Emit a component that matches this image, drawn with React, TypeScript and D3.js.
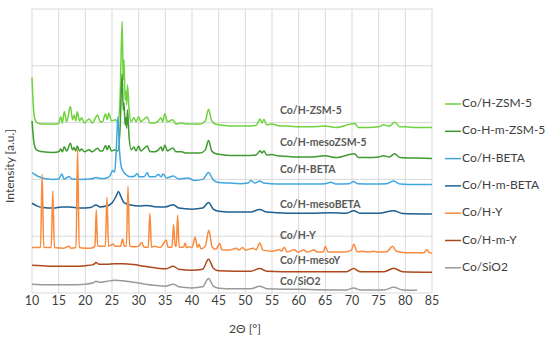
import React from "react";
import * as d3 from "d3";

// legend names and line colours, in drawing order
const seriesNames = ["Co/H-ZSM-5", "Co-H-m-ZSM-5", "Co/H-BETA", "Co/H-m-BETA", "Co/H-Y", "Co/H-m-Y", "Co/SiO2"];
const seriesColors = ["#6fd23e", "#3f9a30", "#3fa7e0", "#1f5f8f", "#fa8a3c", "#ad481d", "#9a9a9a"];
// labels written inside the plot, next to each pattern
const curveLabels = ["Co/H-ZSM-5", "Co/H-mesoZSM-5", "Co/H-BETA", "Co/H-mesoBETA", "Co/H-Y", "Co/H-mesoY", "Co/SiO2"];
const curveLabelLevels = [63.8, 52.8, 43.3, 31, 20, 11.2, 3.8];

const xTicks = [10, 15, 20, 25, 30, 35, 40, 45, 50, 55, 60, 65, 70, 75, 80, 85];
const yGrid = [0, 20, 40, 60, 80, 100];

// [2θ, intensity (a.u., stacked)]
const hZsm5 = [
  [10, 75.9], [10.3, 64.5], [10.6, 61], [11, 59.9], [12, 59.5], [14, 59.5], [15, 59.7], [15.4, 62.1], [15.7, 59.9],
  [16.05, 63.9], [16.5, 60.3], [17.2, 65.7], [17.6, 61], [17.9, 62.7], [18.2, 60.6], [18.5, 63.8], [18.9, 60.6],
  [19.3, 61.7], [19.8, 59.9], [20.7, 61.3], [21.3, 59.9], [22.3, 62.7], [22.8, 60.3], [23.2, 60.3], [23.8, 63.1],
  [24.1, 61], [24.4, 63.4], [24.9, 60.6], [25.6, 61], [26.1, 60.3], [26.5, 68], [26.9, 95.7], [27.1, 75.1],
  [27.25, 82.1], [27.45, 68], [27.6, 71], [27.75, 66.3], [27.9, 73.3], [28.2, 64.5], [28.6, 60.3], [29.1, 61.7],
  [29.5, 60.3], [30, 62.1], [30.4, 60.3], [30.9, 61], [31.6, 62], [32.1, 59.9], [33, 59.9], [33.7, 60.6],
  [34.2, 61.7], [34.5, 60.3], [34.9, 63.1], [35.4, 60.3], [36.4, 61], [37, 59.5], [38, 59.9], [39, 59.5],
  [40, 59.5], [41.5, 59.5], [42.5, 60.6], [43.1, 64.7], [43.7, 60.6], [44.5, 59.4], [46, 59], [48, 58.8],
  [50, 58.8], [52, 59], [52.8, 61.3], [53.1, 59.9], [53.5, 61.1], [54, 59.2], [55, 59.5], [56, 59], [57, 58.8],
  [58, 58.8], [60, 58.5], [62, 58.5], [65, 58.8], [67, 58.3], [70.5, 59.7], [71.2, 58.3], [73, 58.3], [75, 58.5],
  [75.9, 59.2], [77, 58.7], [78, 60.1], [79, 58.5], [80, 58.5], [82, 58.3], [85, 58.3],
];
const hmZsm5 = [
  [10, 60.6], [10.3, 53.9], [10.6, 51.1], [11, 50.2], [12, 49.7], [14, 49.5], [15, 49.7], [15.4, 50.7], [15.7, 49.7],
  [16.05, 51.5], [16.5, 50], [17.2, 52.7], [17.6, 50.4], [17.9, 51.2], [18.2, 50], [18.5, 51.8], [18.9, 50],
  [19.3, 50.7], [19.8, 49.7], [20.7, 50.4], [21.3, 49.7], [22.3, 51], [22.8, 50], [23.2, 50], [23.8, 51.9],
  [24.1, 50.4], [24.4, 51.9], [24.9, 50], [25.6, 50.4], [26.1, 50], [26.5, 57.4], [26.9, 77.2], [27.1, 64.5],
  [27.25, 67], [27.45, 59.2], [27.6, 61.7], [27.75, 58.1], [27.9, 64.5], [28.2, 55], [28.6, 50.4], [29.1, 51.4],
  [29.5, 50], [30, 51.8], [30.4, 50], [30.9, 50.7], [31.6, 51.8], [32.1, 49.8], [33, 49.7], [33.7, 50.4],
  [34.2, 51.4], [34.5, 50], [34.9, 52.1], [35.4, 50], [36.4, 51.1], [37, 49.7], [38, 49.7], [39, 49.3],
  [40, 49.3], [41.5, 49.3], [42.5, 50.4], [43.1, 53.7], [43.7, 50], [44.5, 49], [46, 48.6], [48, 48.4],
  [50, 48.4], [52, 48.6], [52.8, 50.1], [53.1, 49.3], [53.5, 50], [54, 48.6], [55, 48.8], [56, 48.3],
  [58, 48.1], [60, 47.9], [62, 47.9], [65, 48.3], [67, 47.7], [70.5, 49], [71.2, 47.7], [73, 47.7], [75, 47.9],
  [75.9, 48.3], [77, 47.9], [78, 49], [79, 47.7], [82, 47.5], [85, 47.4],
];
const hBeta = [
  [10, 42.4], [11, 41.2], [12, 40.5], [13, 40.1], [14, 40], [15, 40.1], [15.6, 41.9], [16, 40.1], [17, 41],
  [17.5, 40.1], [19, 40], [21, 40.1], [22, 40.7], [23, 40.3], [24, 40.5], [24.7, 41.5], [25.1, 43.1], [25.5, 42.6],
  [25.8, 50.4], [26.1, 62], [26.4, 50.4], [26.8, 44], [27.5, 41.9], [28.5, 40.9], [29.3, 41.2], [29.7, 42.1],
  [30.1, 40.9], [31, 40.9], [31.6, 42.4], [32, 40.9], [33, 40.9], [33.7, 41.7], [34.2, 40.9], [34.6, 41.9],
  [35.2, 40.5], [36.5, 41.2], [37.5, 40.1], [39.2, 40.5], [40.5, 39.6], [42, 40], [43.1, 42.4], [44, 39.8],
  [45, 38.9], [47, 38.7], [49, 38.5], [50.5, 38.7], [51, 39.6], [51.8, 38.7], [52.7, 39.4], [53.5, 38.7],
  [56, 38.4], [60, 38.4], [63, 38.4], [65, 38.5], [66, 39], [67, 38.4], [69.5, 38.5], [70.3, 39.3], [71, 38.5],
  [74, 38.4], [76.5, 38.5], [77.8, 39.4], [79, 38.4], [82, 38.2], [85, 38.2],
];
const hmBeta = [
  [10, 31.6], [11, 30.6], [12, 30.1], [14, 29.9], [15.6, 30.3], [17, 30.3], [19, 29.9], [21, 30.1], [22, 31],
  [22.7, 30.3], [24, 30.6], [25, 31.7], [25.7, 33.8], [26.2, 35.7], [26.7, 33.8], [27.3, 31.7], [28.5, 31],
  [30, 30.6], [31.5, 30.8], [33, 30.4], [35, 30.3], [36.5, 31.1], [37.5, 29.9], [40, 29.5], [42, 29.9],
  [43.1, 31.9], [44, 29.5], [45, 28.8], [48, 28.5], [51, 28.5], [52.7, 29.4], [54, 28.5], [58, 28.1], [62, 28.1],
  [66, 28.3], [69, 28.1], [70.3, 29], [71.5, 28.1], [75, 28.1], [77.8, 29], [79.5, 28], [85, 27.8],
];
const hY = [
  [10, 16], [11, 16], [11.6, 16.1], [11.9, 41.8], [12.2, 16.1], [13.6, 16], [13.9, 35.9], [14.2, 16], [16, 15.8],
  [16.9, 16.5], [17.3, 15.8], [18.25, 16], [18.55, 50.7], [18.85, 16], [20, 15.8], [21, 15.8], [21.8, 16.5],
  [22.05, 29.2], [22.3, 16.5], [23.3, 16.5], [23.75, 16.5], [24.05, 33.7], [24.35, 16.5], [25.2, 17.2],
  [25.6, 16.5], [26.6, 16.5], [27, 19], [27.3, 16.5], [27.7, 16.5], [28, 37.7], [28.3, 16.5], [29.5, 16.3],
  [30, 16.5], [30.6, 17.8], [31, 16.1], [31.8, 16.1], [32.1, 28], [32.4, 16.1], [33, 16.5], [34, 16],
  [35.2, 18.6], [35.5, 16.1], [36.25, 16.1], [36.55, 24.1], [36.85, 16.5], [37.05, 16.5], [37.3, 27.4],
  [37.6, 16.1], [38.4, 16.1], [38.7, 17.6], [39, 16], [39.5, 16.3], [40, 16], [40.6, 19.6], [41, 16.1],
  [41.3, 17.2], [41.7, 15.6], [42.5, 16.5], [43.15, 22.1], [43.8, 16.1], [44.5, 15.4], [45.2, 17.4], [45.6, 15.2],
  [47, 15.1], [48.3, 15.8], [48.8, 15.1], [49.5, 16], [50, 15.1], [51.5, 15.8], [52, 15.2], [52.7, 17.6],
  [53.3, 15.1], [55, 14.7], [56.4, 15.2], [56.8, 14.7], [57.3, 16.1], [57.8, 14.5], [59.2, 15.2], [59.8, 14.4],
  [61, 15.1], [61.5, 14.4], [62.9, 15.1], [63.4, 14.4], [64.6, 14.4], [65, 16.5], [65.5, 14.4], [67, 14.4],
  [68.5, 14.4], [69.9, 15.1], [70.3, 17.2], [71, 14.5], [72, 14.7], [73, 14.4], [74, 14.7], [75, 14.4],
  [76.5, 14.5], [77.6, 16.5], [78.3, 14.7], [80, 14.2], [83.5, 14.2], [84, 15.2], [84.5, 14.2], [85, 14],
];
const hmY = [
  [10, 9.8], [12, 9.6], [15, 9.4], [18, 9.4], [20, 9.6], [21.5, 10], [22, 10.7], [22.6, 10.1], [24, 10.1],
  [25.5, 10.3], [27, 10.3], [29, 10], [31, 9.4], [33, 8.9], [35, 8.5], [36.5, 9.4], [37.5, 8.4], [40, 8],
  [42, 8.4], [43.1, 11.9], [44, 8.7], [45, 7.8], [48, 7.7], [51, 7.7], [52.7, 8.6], [54, 7.7], [60, 7.5],
  [66, 7.5], [69, 7.5], [70.3, 8.6], [71.5, 7.5], [76, 7.5], [77.8, 8.7], [79.5, 7.5], [85, 7.3],
];
const siO2 = [
  [10, 3.1], [13, 2.9], [17, 2.9], [20, 3.1], [21.5, 3.6], [22, 4.1], [22.6, 3.8], [24, 4.1], [25.5, 4.5],
  [27, 4.3], [29, 3.8], [31, 3.2], [33, 2.7], [35, 2.4], [36.5, 3.1], [37.5, 2.2], [40, 1.8], [42, 2.2],
  [43.1, 5.1], [44, 2.4], [45, 1.7], [48, 1.5], [51, 1.5], [52.7, 2.4], [54, 1.5], [60, 1.3], [66, 1.1],
  [69, 1.1], [70.3, 1.8], [71.5, 1.1], [76, 1.1], [77.8, 2], [79.5, 1.1], [82.2, 1],
];

const seriesData = [hZsm5, hmZsm5, hBeta, hmBeta, hY, hmY, siO2];

const W = 550;
const H = 341;
const margin = { top: 9, right: 118, bottom: 48, left: 32 };
const font = "Lato, 'Open Sans', sans-serif";

export default function App() {
  const x = d3.scaleLinear().domain([10, 85]).range([margin.left, W - margin.right]);
  const y = d3.scaleLinear().domain([0, 100]).range([H - margin.bottom, margin.top]);
  const line = d3
    .line<number[]>()
    .x((d) => x(d[0]))
    .y((d) => y(d[1]))
    .curve(d3.curveMonotoneX);

  const legendTop = 104;
  const legendStep = 27.3;

  return (
    <svg width={W} height={H} style={{ position: "absolute", left: 0, top: 0, background: "#fff" }}>
      {/* grid */}
      {xTicks.map((t) => (
        <line key={"gx" + t} x1={x(t)} x2={x(t)} y1={y(0)} y2={y(100)} stroke="#d9d9d9" strokeWidth={1} />
      ))}
      {yGrid.map((t) => (
        <line key={"gy" + t} x1={x(10)} x2={x(85)} y1={y(t)} y2={y(t)} stroke="#d9d9d9" strokeWidth={1} />
      ))}

      {/* series */}
      {seriesData.map((d, i) => (
        <path key={seriesNames[i]} d={line(d) || ""} fill="none" stroke={seriesColors[i]} strokeWidth={1.5} strokeLinejoin="round" />
      ))}

      {/* labels inside the plot */}
      {curveLabels.map((l, i) => (
        <text
          key={l}
          x={x(56.5)}
          y={y(curveLabelLevels[i])}
          dominantBaseline="middle"
          fontFamily={font}
          fontWeight="bold"
          fontSize={10.5}
          fill="#595959"
        >
          {l}
        </text>
      ))}

      {/* x tick labels */}
      {xTicks.map((t) => (
        <text key={"tx" + t} x={x(t)} y={y(0) + 9} dominantBaseline="middle" textAnchor="middle" fontFamily={font} fontSize={12.5} fill="#404040">
          {t}
        </text>
      ))}
      <text x={245} y={330} textAnchor="middle" dominantBaseline="middle" fontFamily={font} fontSize={12} fill="#404040">
        2Θ [°]
      </text>
      <text
        transform="translate(11,166) rotate(-90)"
        textAnchor="middle"
        dominantBaseline="middle"
        fontFamily={font}
        fontSize={12}
        fill="#404040"
      >
        Intensity [a.u.]
      </text>

      {/* legend */}
      {seriesNames.map((n, i) => (
        <g key={"lg" + n} transform={`translate(445,${legendTop + i * legendStep})`}>
          <line x1={0} x2={16} y1={0} y2={0} stroke={seriesColors[i]} strokeWidth={1.5} />
          <text x={17} y={0} dominantBaseline="middle" fontFamily={font} fontSize={12} fill="#404040">
            {n}
          </text>
        </g>
      ))}
    </svg>
  );
}
